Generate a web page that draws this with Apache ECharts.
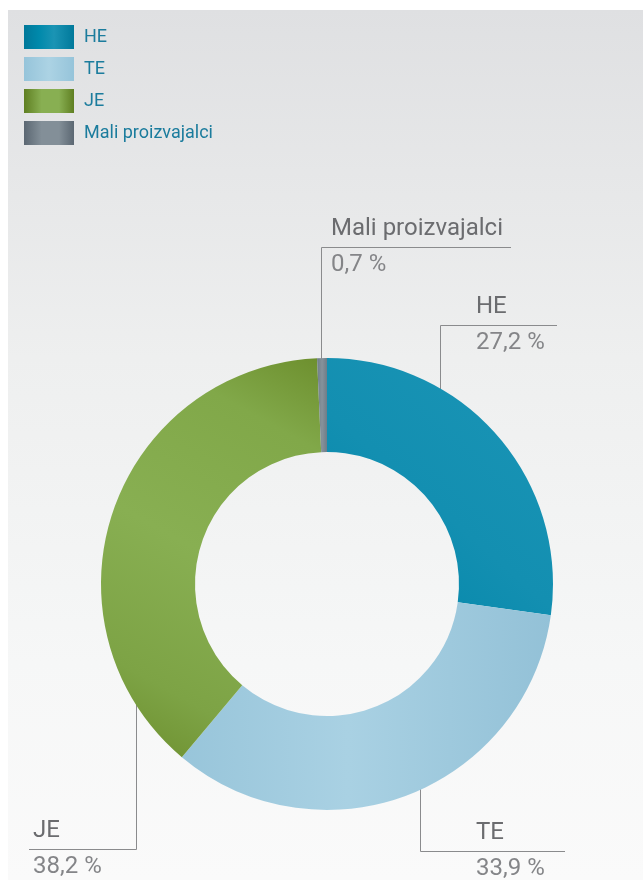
<!DOCTYPE html>
<html>
<head>
<meta charset="utf-8">
<script src="https://cdn.jsdelivr.net/npm/echarts@6/dist/echarts.min.js"></script>
<style>
  html, body { margin: 0; padding: 0; background: #fff; }
  #wrap { position: relative; width: 643px; height: 880px; overflow: hidden; }
  #panel {
    position: absolute; left: 8px; top: 10px; right: 0; bottom: 0;
    background: linear-gradient(#dfe0e2 0%, #eeefef 40%, #f6f7f7 75%, #fafafa 100%);
  }
  #chart { position: absolute; left: 0; top: 0; width: 643px; height: 880px; }
</style>
</head>
<body>
<div id="wrap">
  <div id="panel"></div>
  <div id="chart"></div>
</div>
<script>
// share of production by source, %
const names = ['HE', 'TE', 'JE', 'Mali proizvajalci']
const shares = [27.2, 33.9, 38.2, 0.7]

const CENTER = [327, 584]
const R_OUT = 226
const R_IN = 132

// where each leader line leaves the ring and where its shelf sits
const leaders = {
  'HE': { anchorX: 440, shelfY: 325, endX: 557, textX: 476 },
  'TE': { anchorX: 420, shelfY: 851, endX: 565, textX: 476 },
  'JE': { anchorX: 136, shelfY: 849, endX: 29, textX: 33 },
  'Mali proizvajalci': { anchorX: 321, shelfY: 247, endX: 511, textX: 331 },
}

const grad = (x, y, x2, y2, stops) => new echarts.graphic.LinearGradient(
  x, y, x2, y2, stops.map((c) => ({ offset: c[0], color: c[1] }))
)

const sliceColors = {
  'HE': grad(1, 0, 0, 1, [[0, '#1b95b6'], [0.55, '#138fb1'], [1, '#0086a9']]),
  'TE': grad(0, 0, 1, 0, [[0, '#98c5da'], [0.45, '#a9d1e3'], [1, '#93c1d7']]),
  'JE': grad(1, 0, 0, 1, [[0, '#6d8f2e'], [0.18, '#81a849'], [0.5, '#88af52'], [0.8, '#7da345'], [1, '#6b8d2c']]),
  'Mali proizvajalci': grad(0, 0, 1, 0, [[0, '#6f7d88'], [0.5, '#86929b'], [1, '#6f7d88']]),
}

const swatchColors = {
  'HE': grad(0, 0, 1, 0, [[0, '#00789a'], [0.3, '#0089ab'], [0.6, '#1b94b4'], [1, '#00799b']]),
  'TE': grad(0, 0, 1, 0, [[0, '#96c4da'], [0.5, '#acd3e4'], [1, '#96c4da']]),
  'JE': grad(0, 0, 1, 0, [[0, '#5f7f22'], [0.35, '#88af52'], [0.7, '#88af52'], [1, '#5f7f22']]),
  'Mali proizvajalci': grad(0, 0, 1, 0, [[0, '#5b6772'], [0.35, '#838f98'], [0.7, '#838f98'], [1, '#5b6772']]),
}

const chart = echarts.init(document.getElementById('chart'))

chart.setOption({
  animation: false,
  textStyle: { fontFamily: 'Roboto' },
  legend: {
    orient: 'vertical',
    left: 24,
    top: 25,
    padding: 0,
    itemWidth: 50,
    itemHeight: 24,
    itemGap: 8,
    icon: 'rect',
    selectedMode: false,
    textStyle: { color: '#1b7c9d', fontSize: 18, fontFamily: 'Roboto', padding: [0, 0, 0, 5] },
    data: names.map((n) => ({ name: n, itemStyle: { color: swatchColors[n] } })),
  },
  series: [
    {
      type: 'pie',
      center: CENTER,
      radius: [R_IN, R_OUT],
      startAngle: 90,
      clockwise: true,
      avoidLabelOverlap: false,
      emphasis: { disabled: true },
      data: names.map((n, i) => ({
        name: n,
        value: shares[i],
        itemStyle: { color: sliceColors[n] },
      })),
      label: {
        show: true,
        position: 'outside',
        formatter: (p) => `{n|${p.name}}\n{v|${p.value.toFixed(1).replace('.', ',')} %}`,
        rich: {
          n: { fontSize: 24, color: '#6b6c6f', fontFamily: 'Roboto', lineHeight: 36 },
          v: { fontSize: 24, color: '#848588', fontFamily: 'Roboto', lineHeight: 36 },
        },
      },
      labelLine: {
        show: true,
        lineStyle: { color: '#8a8b8d', width: 1 },
      },
      labelLayout(params) {
        const l = leaders[names[params.dataIndex]]
        const dx = l.anchorX - CENTER[0]
        const dy = Math.sqrt(R_OUT * R_OUT - dx * dx)
        // top half anchors sit above the centre, bottom half below
        const ay = l.shelfY < CENTER[1] ? CENTER[1] - dy + 1 : CENTER[1] + dy - 1
        // half-pixel offsets keep the 1px lines crisp
        const x = l.anchorX + 0.5
        const y = l.shelfY + 0.5
        return {
          x: l.textX,
          y: l.shelfY,
          align: 'left',
          verticalAlign: 'middle',
          labelLinePoints: [[x, ay], [x, y], [l.endX, y]],
        }
      },
    },
  ],
})
</script>
</body>
</html>
